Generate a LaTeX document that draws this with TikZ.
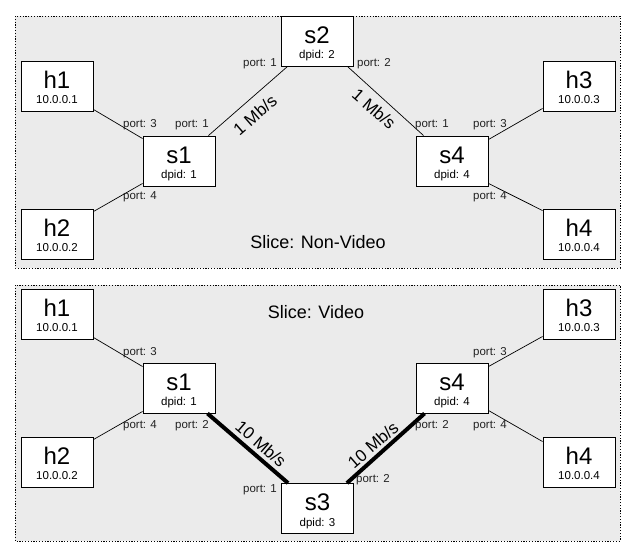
\documentclass[tikz,border=0pt]{standalone}
\usepackage{fontspec}
\setmainfont{Liberation Sans}
\definecolor{panelgray}{HTML}{EBEBEB}
\definecolor{porttext}{HTML}{222222}
\tikzset{
  panel/.style={fill=panelgray, draw=black, line width=0.8pt, dash pattern=on 1.2pt off 1.6pt},
  devbox/.style={draw=black, fill=white, line width=0.9pt, minimum width=72pt, minimum height=50pt, inner sep=0pt},
  devtitle/.style={anchor=base, inner sep=0pt, font=\fontsize{24}{26}\selectfont},
  devsub/.style={anchor=base, inner sep=0pt, font=\fontsize{11.5}{13}\selectfont},
  portlbl/.style={inner sep=0pt, text=porttext, font=\fontsize{11.5}{13}\selectfont},
  ratelbl/.style={inner sep=0pt, font=\fontsize{17}{19}\selectfont},
  slicelbl/.style={inner sep=0pt, font=\fontsize{18}{20}\selectfont},
  thinlink/.style={draw=black, line width=0.7pt},
  thicklink/.style={draw=black, line width=4pt}
}
\newcommand\mkdev[5]{%
  \node[devbox] (#1) at (#2,#3) {};
  \node[devtitle] (#1t) at ([yshift=-27.5pt]#1.north) {#4};
  \node[devsub] (#1s) at ([yshift=-43pt]#1.north) {#5};
}
\begin{document}
\begin{tikzpicture}[x=1pt,y=-1pt]
\useasboundingbox (0,0) rectangle (635,557);
% panels
\path[panel] (15,16) rectangle (620,268);
\path[panel] (15,285) rectangle (620,541);

% ---------- top slice ----------
\mkdev{ah1}{57}{86}{h1}{10.0.0.1}
\mkdev{ah2}{57}{234}{h2}{10.0.0.2}
\mkdev{as1}{179}{161}{s1}{dpid: 1}
\mkdev{as2}{317}{41}{s2}{dpid: 2}
\mkdev{as4}{452}{161}{s4}{dpid: 4}
\mkdev{ah3}{579}{86}{h3}{10.0.0.3}
\mkdev{ah4}{579}{234}{h4}{10.0.0.4}

\draw[thinlink] ([yshift=2pt]ah1.south east) -- ([yshift=-3pt]as1.north west);
\draw[thinlink] ([yshift=-3pt]ah2.north east) -- ([yshift=3pt]as1.south west);
\draw[thinlink] ([xshift=-7pt]as1.north east) -- ([xshift=7pt]as2.south west);
\draw[thinlink] ([xshift=-6pt]as2.south east) -- ([xshift=8pt]as4.north west);
\draw[thinlink] ([yshift=-4pt]as4.north east) -- ([yshift=3pt]ah3.south west);
\draw[thinlink] ([yshift=3pt]as4.south east) -- ([yshift=-2pt]ah4.north west);

\node[portlbl] (ap1) at (140,125) {port: 3};
\node[portlbl] (ap2) at (192,125) {port: 1};
\node[portlbl] (ap3) at (140,197) {port: 4};
\node[portlbl] (ap4) at (260,64) {port: 1};
\node[portlbl] (ap5) at (374,64) {port: 2};
\node[portlbl] (ap6) at (432,125) {port: 1};
\node[portlbl] (ap7) at (490,125) {port: 3};
\node[portlbl] (ap8) at (490,197) {port: 4};
\node[ratelbl, rotate=41] (ar1) at (255,115) {1 Mb/s};
\node[ratelbl, rotate=-41] (ar2) at (374,109) {1 Mb/s};
\node[slicelbl] (aslice) at (318,242) {Slice: Non-Video};

% ---------- bottom slice ----------
\mkdev{bh1}{57}{314}{h1}{10.0.0.1}
\mkdev{bh2}{57}{462}{h2}{10.0.0.2}
\mkdev{bs1}{179}{388}{s1}{dpid: 1}
\mkdev{bs3}{317.5}{508.5}{s3}{dpid: 3}
\mkdev{bs4}{452}{388}{s4}{dpid: 4}
\mkdev{bh3}{579}{314}{h3}{10.0.0.3}
\mkdev{bh4}{579}{462}{h4}{10.0.0.4}

\draw[thinlink] ([yshift=2pt]bh1.south east) -- ([yshift=-4pt]bs1.north west);
\draw[thinlink] ([yshift=-3pt]bh2.north east) -- ([yshift=2pt]bs1.south west);
\draw[thicklink] ([xshift=-8pt]bs1.south east) -- ([xshift=7pt]bs3.north west);
\draw[thicklink] ([xshift=-7pt]bs3.north east) -- ([xshift=9pt]bs4.south west);
\draw[thinlink] ([yshift=-4pt]bs4.north east) -- ([yshift=3pt]bh3.south west);
\draw[thinlink] ([yshift=3pt]bs4.south east) -- ([yshift=-5pt]bh4.north west);

\node[portlbl] (bp1) at (140,353) {port: 3};
\node[portlbl] (bp2) at (140,426) {port: 4};
\node[portlbl] (bp3) at (192,426) {port: 2};
\node[portlbl] (bp4) at (260,490) {port: 1};
\node[portlbl] (bp5) at (373,480) {port: 2};
\node[portlbl] (bp6) at (432,426) {port: 2};
\node[portlbl] (bp7) at (490,426) {port: 4};
\node[portlbl] (bp8) at (490,353) {port: 3};
\node[ratelbl, rotate=-41] (br1) at (261,444) {10 Mb/s};
\node[ratelbl, rotate=41] (br2) at (373,445) {10 Mb/s};
\node[slicelbl] (bslice) at (316,312) {Slice: Video};
\end{tikzpicture}
\end{document}
